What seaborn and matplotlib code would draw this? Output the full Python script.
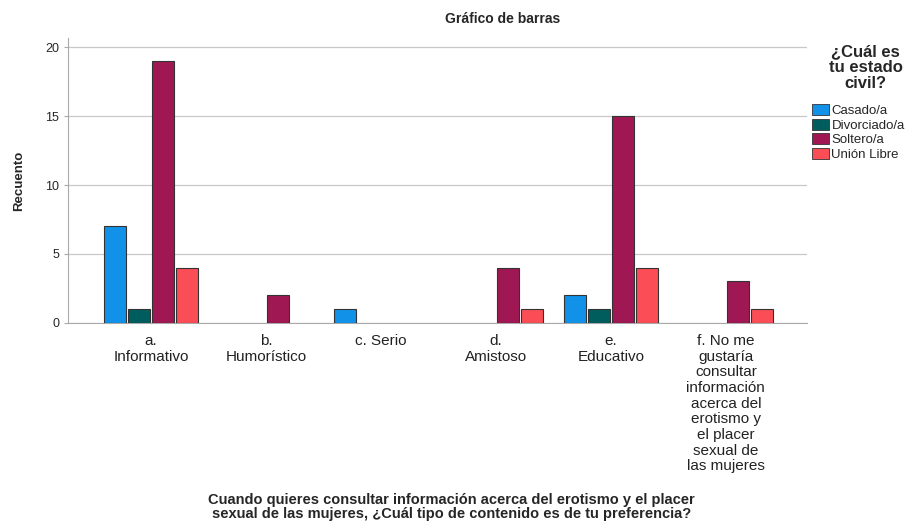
import numpy as np
import pandas as pd
import matplotlib
matplotlib.use("Agg")
import matplotlib.pyplot as plt
import seaborn as sns
from matplotlib.patches import Patch

# %%
categories = ["a.\nInformativo", "b.\nHumorístico", "c. Serio", "d.\nAmistoso",
              "e.\nEducativo",
              "f. No me\ngustaría\nconsultar\ninformación\nacerca del\nerotismo y\nel placer\nsexual de\nlas mujeres"]
estado = ["Casado/a", "Divorciado/a", "Soltero/a", "Unión Libre"]
casado = [7, 0, 1, 0, 2, 0]
divorciado = [1, 0, 0, 0, 1, 0]
soltero = [19, 2, 0, 4, 15, 3]
union_libre = [4, 0, 0, 1, 4, 1]
colors = ["#1192e8", "#005d5d", "#9f1853", "#fa4d56"]

# %%
rows = []
for serie, vals in zip(estado, [casado, divorciado, soltero, union_libre]):
    for cat, v in zip(categories, vals):
        if v > 0:
            rows.append({"cat": cat, "estado": serie, "n": v})
df = pd.DataFrame(rows)

sns.set_style("white")
plt.rcParams["font.family"] = ["Liberation Sans", "DejaVu Sans"]

fig = plt.figure(figsize=(9.22, 5.31), dpi=100)
ax = fig.add_axes([0.0738, 0.392, 0.802, 0.536])

sns.barplot(data=df, x="cat", y="n", hue="estado", order=categories,
            hue_order=estado, palette=colors, width=0.83, gap=0.08,
            edgecolor="#333333", linewidth=0.8, saturation=1, ax=ax,
            legend=False, zorder=3)

ax.set_xlim(-0.72, 5.71)
ax.set_ylim(0, 20.65)
ax.set_yticks([0, 5, 10, 15, 20])
ax.yaxis.grid(True, color="#c8c8c8", linewidth=0.9, zorder=0)
ax.set_axisbelow(True)
for s in ["top", "right"]:
    ax.spines[s].set_visible(False)
for s in ["left", "bottom"]:
    ax.spines[s].set_color("#aaaaaa")
ax.tick_params(axis="y", labelsize=9, length=3, color="#aaaaaa", left=True)
ax.tick_params(axis="x", labelsize=11, length=0, pad=8)
for lbl in ax.get_xticklabels():
    lbl.set_linespacing(1.15)
    lbl.set_color("#222222")
ax.set_xlabel("")
ax.set_ylabel("Recuento", fontsize=9.5, fontweight="bold", labelpad=14)

# titles
fig.text(0.545, 0.965, "Gráfico de barras", ha="center", va="center",
         fontsize=10, fontweight="bold")
fig.text(0.49, 0.045,
         "Cuando quieres consultar información acerca del erotismo y el placer\n"
         "sexual de las mujeres, ¿Cuál tipo de contenido es de tu preferencia?",
         ha="center", va="center", fontsize=10.5, fontweight="bold", linespacing=1.0)
fig.text(0.939, 0.872, "¿Cuál es\ntu estado\ncivil?", ha="center", va="center",
         fontsize=12, fontweight="bold", linespacing=1.08)

handles = [Patch(facecolor=c, edgecolor="#333333", linewidth=0.6) for c in colors]
fig.legend(handles, estado, loc="upper left", bbox_to_anchor=(0.881, 0.804),
           frameon=False, fontsize=9.5, handlelength=1.3, handleheight=0.9,
           handletextpad=0.15, labelspacing=0.12, borderaxespad=0, borderpad=0)

fig.savefig("out.png", dpi=100)
